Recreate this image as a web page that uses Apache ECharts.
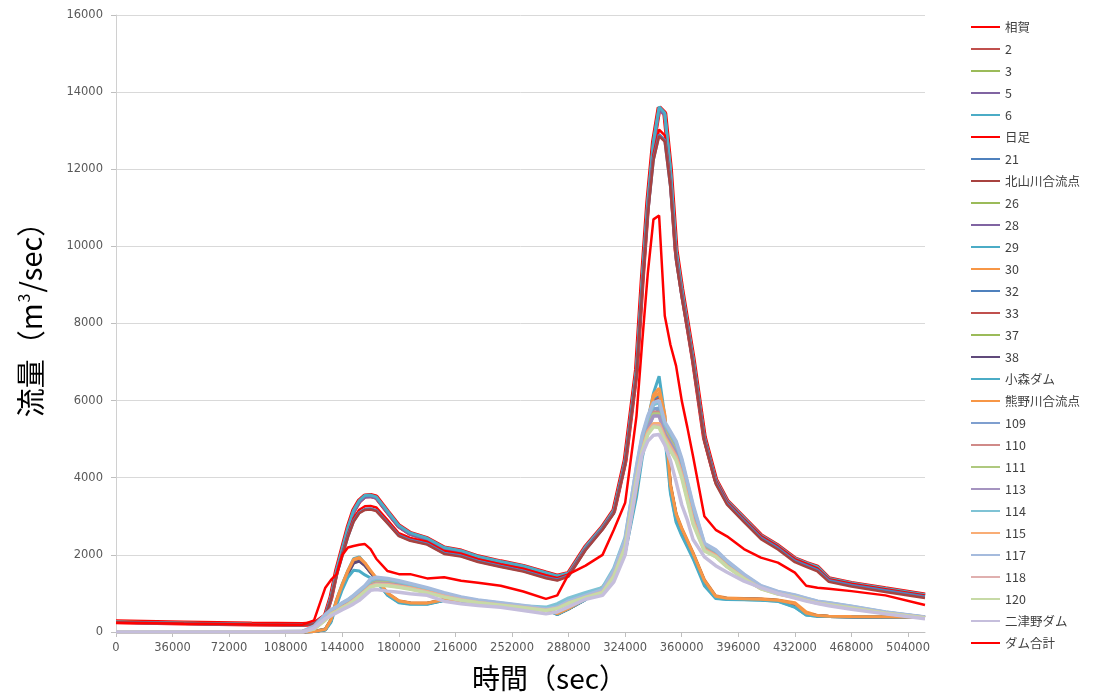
<!DOCTYPE html>
<html>
<head>
<meta charset="utf-8">
<script src="https://cdn.jsdelivr.net/npm/echarts@6/dist/echarts.min.js"></script>
<style>
html,body{margin:0;padding:0;background:#fff;}
#chart{width:1094px;height:697px;}
</style>
</head>
<body>
<div id="chart"></div>
<script>
// time (sec)
const times = [0,43200,86400,118800,126000,133200,136800,140400,144000,147600,
151200,154800,158400,162000,165600,172800,180000,187200,198000,208800,
219600,230400,244800,259200,273600,280800,288000,298800,309600,316800,
324000,331200,334800,338400,342000,345600,349200,352800,356400,360000,
363600,367200,374400,381600,388800,399600,410400,421200,432000,439200,
446400,453600,468000,489600,514800];

const xTickLabels = [0,36000,72000,108000,144000,180000,216000,252000,288000,324000,360000,396000,432000,468000,504000];
const yTickLabels = [0,2000,4000,6000,8000,10000,12000,14000,16000];

const oga = [265,235,205,195,215,420,900,1600,2150,2700,
3150,3400,3530,3540,3500,3120,2750,2560,2420,2180,
2100,1950,1820,1700,1530,1450,1520,2200,2720,3150,
4450,6800,9100,11150,12700,13600,13450,12000,9900,8900,
8000,7100,5050,3950,3400,2950,2500,2230,1900,1780,
1680,1380,1260,1120,960];
const s2 = [262,232,203,193,212,400,880,1580,2130,2680,
3140,3390,3520,3535,3490,3110,2740,2550,2410,2170,
2090,1945,1815,1695,1525,1445,1510,2190,2710,3140,
4420,6780,9080,11120,12680,13580,13430,11980,9880,8880,
7990,7090,5040,3940,3390,2940,2490,2225,1895,1775,
1675,1375,1255,1115,955];
const s3 = [258,228,200,190,210,390,860,1560,2110,2660,
3120,3380,3510,3525,3480,3100,2730,2540,2400,2160,
2080,1935,1805,1685,1515,1435,1500,2180,2700,3130,
4400,6760,9050,11100,12650,13560,13420,11960,9860,8860,
7970,7070,5020,3920,3375,2925,2480,2215,1885,1765,
1665,1365,1245,1105,945];
const s5 = [255,226,198,188,208,380,850,1540,2090,2640,
3100,3360,3495,3510,3465,3090,2720,2530,2390,2150,
2070,1925,1795,1675,1505,1425,1490,2170,2690,3120,
4380,6740,9020,11080,12620,13540,13400,11940,9840,8840,
7950,7050,5000,3900,3360,2910,2470,2205,1875,1755,
1655,1355,1235,1095,935];
const s6 = [250,222,195,186,205,440,920,1620,2170,2720,
3160,3410,3540,3550,3505,3130,2760,2570,2430,2190,
2110,1960,1830,1710,1540,1455,1530,2210,2730,3160,
4470,6820,9120,11180,12720,13620,13460,12020,9920,8920,
8010,7110,5060,3960,3410,2960,2510,2240,1910,1790,
1690,1390,1270,1130,965];
const hitari = [255,225,200,190,210,410,870,1520,2030,2540,
2950,3170,3260,3270,3230,2900,2560,2440,2340,2100,
2030,1890,1760,1640,1470,1400,1490,2160,2690,3110,
4410,6720,8930,10950,12380,13030,12880,11680,9760,8800,
7940,7030,5030,3930,3380,2930,2490,2220,1890,1770,
1650,1370,1250,1110,945];
const s21 = [250,222,197,188,208,395,850,1490,1990,2480,
2880,3100,3185,3195,3155,2835,2505,2385,2285,2045,
1975,1835,1705,1585,1415,1355,1460,2140,2670,3090,
4380,6680,8870,10870,12260,12900,12750,11560,9670,8720,
7880,6980,4980,3880,3335,2885,2445,2175,1845,1725,
1605,1335,1215,1075,915];
const kitayama = [246,218,193,184,204,385,840,1470,1970,2460,
2860,3080,3165,3175,3135,2815,2485,2365,2265,2025,
1955,1815,1685,1565,1395,1335,1440,2120,2650,3070,
4340,6640,8830,10830,12220,12860,12720,11520,9630,8680,
7840,6940,4940,3840,3300,2850,2410,2140,1810,1690,
1570,1300,1180,1040,880];
const s26 = [0,0,0,0,15,70,310,820,1220,1570,
1850,1900,1760,1560,1370,980,790,745,740,830,
800,780,710,660,600,470,610,860,1160,1490,
2120,3700,4740,5440,6060,6150,5500,3750,3000,2620,
2300,2000,1300,900,860,850,840,810,700,460,
420,405,398,392,383];
const s28 = [0,0,0,0,15,65,300,800,1200,1550,
1830,1880,1750,1560,1380,990,800,750,745,835,
805,785,715,665,605,475,610,855,1150,1480,
2100,3680,4720,5420,5990,6000,5450,3780,3030,2650,
2320,2020,1320,910,865,855,845,815,720,470,
420,405,398,392,383];
const s29 = [0,0,0,0,20,80,330,850,1250,1600,
1900,1950,1780,1560,1350,950,760,720,720,820,
790,770,700,650,590,450,600,850,1150,1500,
2150,3750,4800,5500,6190,6630,5600,3650,2900,2550,
2250,1950,1250,880,850,840,830,800,650,440,
410,400,395,390,380];
const s30 = [0,0,0,0,15,70,320,830,1230,1590,
1880,1930,1790,1590,1400,1010,810,760,750,840,
810,790,720,670,610,480,615,865,1165,1500,
2130,3720,4780,5480,6150,6320,5650,3850,3080,2700,
2380,2060,1360,940,880,870,860,830,760,520,
430,410,400,395,385];
const s32 = [0,0,0,0,15,65,300,790,1190,1540,
1820,1870,1740,1550,1370,985,795,748,742,832,
802,782,712,662,602,472,606,852,1148,1478,
2095,3670,4710,5400,5980,6100,5480,3760,3010,2630,
2310,2010,1310,905,862,852,842,812,710,465,
418,403,397,391,382];
const s33 = [0,0,0,0,14,62,295,780,1180,1530,
1810,1860,1735,1548,1368,982,792,746,740,830,
800,780,710,660,600,470,604,850,1145,1475,
2090,3660,4700,5390,5960,6050,5470,3770,3020,2640,
2315,2015,1315,908,864,854,844,814,715,468,
419,404,397,391,382];
const s37 = [0,0,0,0,14,60,290,770,1170,1520,
1800,1850,1730,1545,1365,980,790,745,738,828,
798,778,708,658,598,468,602,848,1142,1472,
2085,3650,4690,5380,5940,6000,5460,3780,3030,2650,
2320,2020,1320,910,866,856,846,816,720,470,
420,404,397,391,382];
const s38 = [0,0,0,0,13,58,285,760,1160,1510,
1790,1840,1725,1542,1362,978,788,743,736,826,
796,776,706,656,596,466,600,846,1140,1470,
2080,3640,4680,5370,5920,5950,5440,3790,3040,2660,
2330,2030,1330,915,868,858,848,818,725,472,
421,404,397,391,382];
const komori = [0,0,0,0,10,50,250,700,1100,1420,
1600,1580,1480,1400,1300,960,770,730,725,815,
785,765,695,645,585,455,598,840,1130,1450,
2050,3500,4500,5200,5650,5760,5100,3600,2850,2500,
2200,1900,1200,870,845,835,825,795,640,440,
410,400,395,390,380];
const kumano = [0,0,0,0,15,68,315,825,1225,1580,
1870,1920,1785,1585,1395,1005,805,755,748,838,
808,788,718,668,608,478,612,862,1160,1495,
2120,3710,4760,5460,6100,6200,5600,3820,3060,2680,
2360,2040,1340,925,872,862,852,822,740,490,
425,408,399,393,384];
const s109 = [0,0,0,10,110,380,520,600,700,780,
880,1000,1120,1270,1330,1320,1270,1210,1100,980,
880,800,730,665,585,640,780,930,1080,1560,
2350,4150,4950,5450,5780,5800,5300,5050,4800,4350,
3750,3150,2220,2060,1790,1450,1170,1020,930,850,
775,735,650,505,380];
const s110 = [0,0,0,8,100,360,500,580,680,760,
860,980,1100,1250,1300,1290,1245,1190,1085,965,
870,795,725,660,580,635,770,920,1070,1540,
2320,4100,4900,5400,5700,5700,5250,5000,4750,4300,
3700,3100,2200,2040,1770,1440,1160,1010,925,845,
770,730,645,500,378];
const s111 = [0,0,0,8,95,350,490,570,670,750,
850,970,1090,1230,1280,1270,1230,1175,1075,955,
865,790,720,655,578,630,765,915,1060,1520,
2300,4080,4850,5350,5650,5650,5200,4950,4700,4250,
3650,3050,2180,2020,1750,1420,1150,1005,920,840,
765,725,640,498,375];
const s113 = [0,0,0,5,90,340,480,560,655,735,
835,955,1075,1210,1260,1250,1210,1160,1060,945,
855,780,712,648,572,625,760,910,1050,1500,
2280,4050,4800,5300,5600,5600,5150,4900,4650,4200,
3600,3000,2160,2000,1730,1410,1140,1000,915,835,
760,720,635,495,372];
const s114 = [0,0,0,15,130,420,560,640,750,830,
940,1060,1180,1330,1390,1370,1310,1240,1130,1000,
890,815,745,675,640,730,880,1020,1150,1650,
2450,4250,5050,5550,5900,5950,5400,5150,4900,4450,
3850,3250,2280,2110,1830,1480,1190,1040,950,870,
790,750,660,510,385];
const s115 = [0,0,0,5,85,330,470,550,640,720,
820,940,1060,1190,1240,1230,1190,1140,1045,935,
845,772,705,642,568,620,755,905,1040,1480,
2250,4000,4750,5200,5400,5400,5050,4800,4550,4100,
3500,2900,2140,1980,1710,1400,1130,995,910,830,
755,715,630,490,370];
const s117 = [0,0,0,20,150,450,580,650,760,840,
950,1080,1200,1380,1420,1390,1330,1260,1150,1020,
910,830,760,690,600,650,800,950,1100,1600,
2400,4300,5100,5600,5950,6000,5450,5200,4950,4500,
3900,3300,2300,2130,1850,1500,1200,1050,960,880,
800,760,670,520,390];
const s118 = [0,0,0,5,80,320,460,540,630,710,
810,930,1050,1175,1225,1215,1175,1125,1030,920,
835,765,700,636,563,615,750,900,1030,1460,
2220,3980,4700,5150,5350,5350,5000,4750,4500,4050,
3450,2850,2120,1960,1700,1390,1125,990,905,825,
750,710,625,487,368];
const s120 = [0,0,0,3,75,310,450,530,620,700,
800,920,1040,1160,1210,1200,1160,1110,1015,905,
825,758,694,630,558,610,745,895,1020,1440,
2200,3950,4680,5120,5320,5300,4970,4700,4450,4000,
3400,2800,2100,1950,1690,1380,1120,985,900,820,
745,705,620,484,365];
const futatsuno = [0,0,0,0,100,350,420,500,580,650,
730,820,950,1080,1100,1060,1030,990,950,800,
730,690,640,560,470,520,650,850,950,1300,
2000,3800,4600,4950,5100,5120,4850,4450,3900,3300,
2900,2400,1950,1720,1550,1320,1150,1000,880,800,
740,680,590,470,345];
const damTotal = [240,215,195,190,300,1150,1350,1500,2000,2190,
2230,2260,2280,2150,1900,1580,1500,1500,1390,1420,
1330,1280,1200,1050,860,950,1500,1720,2000,2650,
3350,5600,7500,9300,10700,10800,8200,7450,6900,6000,
5300,4560,3000,2650,2480,2150,1930,1800,1540,1200,
1150,1120,1060,950,700];

const seriesNames = ['相賀','2','3','5','6','日足','21','北山川合流点','26','28','29','30','32','33','37','38','小森ダム','熊野川合流点','109','110','111','113','114','115','117','118','120','二津野ダム','ダム合計'];
const seriesValues = [oga,s2,s3,s5,s6,hitari,s21,kitayama,s26,s28,s29,s30,s32,s33,s37,s38,komori,kumano,s109,s110,s111,s113,s114,s115,s117,s118,s120,futatsuno,damTotal];

// styles
const seriesColors = ['#FF0000','#C0504D','#9BBB59','#8064A2','#4BACC6','#FF0000','#4F81BD','#A8423F','#9BBB59','#8064A2','#4BACC6','#F79646','#4F81BD','#C0504D','#9BBB59','#604A7B','#4BACC6','#F79646','#7F9FCF','#D08A88','#AFC97F','#A594C0','#7FC3D5','#F9AD75','#A5BBDD','#E0B0AF','#C7DAA6','#C5BEDC','#FF0000'];
const seriesWidths = [5,3,3,3,3,2.5,3,2.5,3,3,3,3,3,3,3,3,3,3,3.5,3.5,3.5,3.5,3.5,3.5,3.5,3.5,3.5,3.5,2.5];

const chart = echarts.init(document.getElementById('chart'), null, {renderer:'canvas'});
const labelFont = 'DejaVu Sans';
const jpFont = '"Noto Sans CJK JP", "Noto Sans", sans-serif';

chart.setOption({
  animation: false,
  backgroundColor: '#ffffff',
  grid: {left: 116, right: 169, top: 15, bottom: 62, containLabel: false},
  legend: {
    orient: 'vertical',
    left: 970,
    top: 20,
    padding: 0,
    itemWidth: 29,
    itemHeight: 14,
    itemGap: 8,
    itemStyle: {opacity: 0},
    textStyle: {fontSize: 12.5, color: '#404040', fontFamily: jpFont, lineHeight: 14},
    data: seriesNames
  },
  xAxis: {
    type: 'value',
    min: 0,
    max: times[times.length - 1],
    interval: xTickLabels[1] - xTickLabels[0],
    name: '時間（sec）',
    nameLocation: 'middle',
    nameGap: 32,
    nameTextStyle: {fontSize: 28, color: '#000', fontFamily: jpFont, padding: [0, 0, 0, 58]},
    axisLine: {show: true, lineStyle: {color: '#bfbfbf', width: 1}},
    axisTick: {show: true, length: 5, lineStyle: {color: '#bfbfbf'}},
    axisLabel: {
      margin: 10, fontSize: 11.5, color: '#595959', fontFamily: labelFont,
      showMaxLabel: false,
      formatter: v => (xTickLabels.indexOf(v) >= 0 ? String(v) : '')
    },
    splitLine: {show: false}
  },
  yAxis: {
    type: 'value',
    min: yTickLabels[0],
    max: yTickLabels[yTickLabels.length - 1],
    interval: yTickLabels[1] - yTickLabels[0],
    name: '流量（m{sup|3}/sec）',
    nameLocation: 'middle',
    nameGap: 70,
    nameRotate: 90,
    nameTextStyle: {
      fontSize: 29, color: '#000', fontFamily: jpFont, padding: [0, 0, 0, 22],
      rich: {sup: {fontSize: 16, color: '#000', fontFamily: jpFont, verticalAlign: 'top', padding: [0, 1, 14, 1]}}
    },
    axisLine: {show: true, lineStyle: {color: '#d0d0d0', width: 1}},
    axisTick: {show: true, length: 5, lineStyle: {color: '#bfbfbf'}},
    axisLabel: {margin: 13, fontSize: 11.5, color: '#595959', fontFamily: labelFont, formatter: v => String(v)},
    splitLine: {show: true, lineStyle: {color: '#d9d9d9', width: 1}}
  },
  series: seriesNames.map((n, i) => ({
    name: n,
    type: 'line',
    symbol: 'none',
    showSymbol: false,
    data: times.map((t, j) => [t, seriesValues[i][j]]),
    lineStyle: {color: seriesColors[i], width: seriesWidths[i]},
    itemStyle: {color: seriesColors[i]},
    emphasis: {disabled: true}
  }))
});
</script>
</body>
</html>
